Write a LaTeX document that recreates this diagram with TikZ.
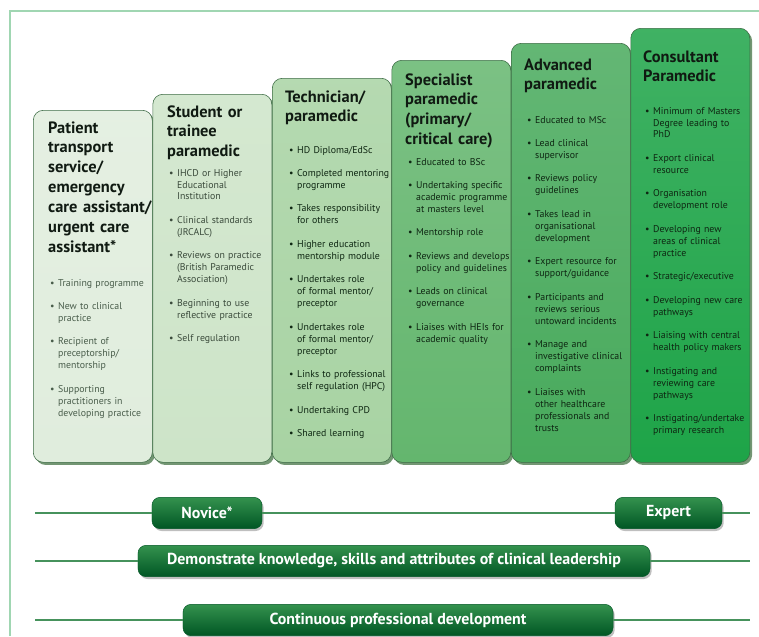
\documentclass[tikz,border=0pt]{standalone}
\usepackage{fontspec}
\setmainfont{PT Sans}
\usepackage{tikz}
\usetikzlibrary{positioning,shadows}
\definecolor{framegreen}{RGB}{160,214,178}
\definecolor{rulegreen}{RGB}{70,146,92}
\definecolor{edgegreen}{RGB}{62,108,70}
\definecolor{lvlA}{RGB}{224,237,221}
\definecolor{lvlB}{RGB}{205,228,200}
\definecolor{lvlC}{RGB}{168,211,163}
\definecolor{lvlD}{RGB}{100,182,110}
\definecolor{lvlE}{RGB}{72,170,92}
\definecolor{lvlF}{RGB}{30,164,72}
\definecolor{pilltop}{RGB}{52,146,78}
\definecolor{pillbot}{RGB}{0,86,36}
\definecolor{ink}{RGB}{16,26,18}
\definecolor{softink}{RGB}{72,92,74}
\definecolor{deepink}{RGB}{14,38,18}

\newlength\itemind
\setlength\itemind{6.8pt}
\newcommand\stageitem[1]{\noindent\hangindent=\itemind\hangafter=1
  \hbox to \itemind{\textbullet\hfil}#1\par\vspace{9.8pt}}

\tikzset{
    stagebox/.style={draw=edgegreen,line width=0.5pt,rounded corners=0.3cm,
      minimum width=3.57cm,inner sep=0pt,anchor=north west,
      drop shadow={shadow xshift=0.07cm,shadow yshift=-0.08cm,opacity=0.55,fill=black!75!green}},
    stagehead/.style={anchor=base west,inner sep=0pt,text width=4cm,align=left,
      text=ink,font=\fontsize{14}{17}\selectfont\bfseries},
    stagelist/.style={anchor=base west,inner sep=0pt,text width=3.6cm,
      text=deepink,font=\fontsize{8.4}{10.24}\selectfont},
    levelpill/.style={rounded corners=0.24cm,minimum height=0.94cm,inner sep=0pt,
      top color=pilltop,bottom color=pillbot,draw=pillbot,text=white,
      font=\fontsize{13.6}{15}\selectfont\bfseries,
      drop shadow={shadow xshift=0.05cm,shadow yshift=-0.07cm,opacity=0.5}},
    pathline/.style={draw=rulegreen,line width=1.1pt}
}

\begin{document}
\begin{tikzpicture}[x=0.03cm,y=-0.03cm]
  \useasboundingbox (0,0) rectangle (759,636);
  % thin frame along the top and the left
  \draw[framegreen,line width=1.2pt] (10,636) -- (10,11) -- (759,11);

  % six stages, each one a step higher than the last
  \foreach \i/\x/\top/\tint in {1/33/110/lvlA,2/152.5/94/lvlB,3/272/78/lvlC,
                                4/391.5/60/lvlD,5/511/43/lvlE,6/630.5/28/lvlF}
    {\node[stagebox,top color=\tint!85!white,bottom color=\tint,
       minimum height={(462-\top)*0.03cm}] (c\i) at (\x,\top) {};}

  \node[stagehead] (h1) at (48,133) {Patient\\transport\\service/\\emergency\\care assistant/\\urgent care\\assistant*};
  \node[stagehead] (h2) at (167,117) {Student or\\trainee\\paramedic};
  \node[stagehead] (h3) at (285,102) {Technician/\\paramedic};
  \node[stagehead] (h4) at (405,85) {Specialist\\paramedic\\(primary/\\critical care)};
  \node[stagehead] (h5) at (524,70) {Advanced\\paramedic};
  \node[stagehead] (h6) at (643,62) {Consultant\\Paramedic};

  \node[stagelist,text=softink] (b1) at (50,286) {%
    \stageitem{Training programme}%
    \stageitem{New to clinical\newline practice}%
    \stageitem{Recipient of\newline preceptorship/\newline mentorship}%
    \stageitem{Supporting\newline practitioners in\newline developing practice}};
  \node[stagelist,text=softink!80!black] (b2) at (169,176) {%
    \stageitem{IHCD or Higher\newline Educational\newline Institution}%
    \stageitem{Clinical standards\newline (JRCALC)}%
    \stageitem{Reviews on practice\newline (British Paramedic\newline Association)}%
    \stageitem{Beginning to use\newline reflective practice}%
    \stageitem{Self regulation}};
  \node[stagelist] (b3) at (289,153) {%
    \stageitem{HD Diploma/EdSc}%
    \stageitem{Completed mentoring\newline programme}%
    \stageitem{Takes responsibility\newline for others}%
    \stageitem{Higher education\newline mentorship module}%
    \stageitem{Undertakes role\newline of formal mentor/\newline preceptor}%
    \stageitem{Undertakes role\newline of formal mentor/\newline preceptor}%
    \stageitem{Links to professional\newline self regulation (HPC)}%
    \stageitem{Undertaking CPD}%
    \stageitem{Shared learning}};
  \node[stagelist] (b4) at (408,165) {%
    \stageitem{Educated to BSc}%
    \stageitem{Undertaking specific\newline academic programme\newline at masters level}%
    \stageitem{Mentorship role}%
    \stageitem{Reviews and develops\newline policy and guidelines}%
    \stageitem{Leads on clinical\newline governance}%
    \stageitem{Liaises with HEIs for\newline academic quality}};
  \node[stagelist] (b5) at (527,123) {%
    \stageitem{Educated to MSc}%
    \stageitem{Lead clinical\newline supervisor}%
    \stageitem{Reviews policy\newline guidelines}%
    \stageitem{Takes lead in\newline organisational\newline development}%
    \stageitem{Expert resource for\newline support/guidance}%
    \stageitem{Participants and\newline reviews serious\newline untoward incidents}%
    \stageitem{Manage and\newline investigative clinical\newline complaints}%
    \stageitem{Liaises with\newline other healthcare\newline professionals and\newline trusts}};
  \node[stagelist] (b6) at (645,114) {%
    \stageitem{Minimum of Masters\newline Degree leading to\newline PhD}%
    \stageitem{Export clinical\newline resource}%
    \stageitem{Organisation\newline development role}%
    \stageitem{Developing new\newline areas of clinical\newline practice}%
    \stageitem{Strategic/executive}%
    \stageitem{Developing new care\newline pathways}%
    \stageitem{Liaising with central\newline health policy makers}%
    \stageitem{Instigating and\newline reviewing care\newline pathways}%
    \stageitem{Instigating/undertake\newline primary research}};

  % novice to expert
  \coordinate (l1) at (35,513);
  \coordinate (r1) at (750,513);
  \node[levelpill,minimum width=3.3cm] (novice) at (207,513) {Novice*};
  \node[levelpill,minimum width=3.21cm] (expert) at (668.5,513) {Expert};
  \draw[pathline] (l1) -- (novice) (novice) -- (expert) (expert) -- (r1);

  \coordinate (l2) at (35,561);
  \coordinate (r2) at (750,561);
  \node[levelpill,minimum width=15.36cm] (lead) at (394,561)
    {Demonstrate knowledge, skills and attributes of clinical leadership};
  \draw[pathline] (l2) -- (lead) (lead) -- (r2);

  \coordinate (l3) at (35,620);
  \coordinate (r3) at (750,620);
  \node[levelpill,minimum width=12.9cm] (cpd) at (398,620) {Continuous professional development};
  \draw[pathline] (l3) -- (cpd) (cpd) -- (r3);
\end{tikzpicture}
\end{document}
